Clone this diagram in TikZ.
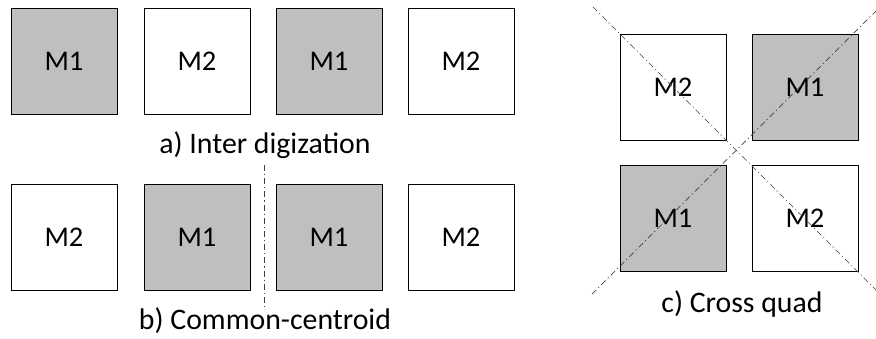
\documentclass[tikz,border=0pt]{standalone}
\usepackage{fontspec}
\setmainfont{Carlito}
\begin{document}
\begin{tikzpicture}[x=1pt,y=-1pt,
  cell/.style={draw=black,line width=0.9pt,minimum size=106pt,inner sep=0pt,
    font=\fontsize{28.5}{30}\selectfont},
  m1/.style={cell,fill=black!25},
  m2/.style={cell,fill=white},
  caption/.style={anchor=base,inner sep=0pt,font=\fontsize{29.8}{31}\selectfont},
  axis/.style={line width=0.7pt,black!75,dash pattern=on 6pt off 3pt on 1.2pt off 3pt}]
\useasboundingbox (0,0) rectangle (876,338);

% a) interdigitated row
\node[m1] (a1) at (64,61.5) {M1};
\node[m2] (a2) at (197,61.5) {M2};
\node[m1] (a3) at (329,61.5) {M1};
\node[m2] (a4) at (461,61.5) {M2};
\node[caption] (capa) at (265,153) {a) Inter digization};

% b) common-centroid row
\node[m2] (b1) at (64,237.5) {M2};
\node[m1] (b2) at (197,237.5) {M1};
\node[m1] (b3) at (329,237.5) {M1};
\node[m2] (b4) at (461,237.5) {M2};
\coordinate (bt) at (264,165);
\coordinate (bb) at (264,308);
\draw[axis] (bt) -- (bb);
\node[caption] (capb) at (265,329) {b) Common-centroid};

% c) cross-quad
\node[m2] (c1) at (673,87.5) {M2};
\node[m1] (c2) at (805,87.5) {M1};
\node[m1] (c3) at (673,218.5) {M1};
\node[m2] (c4) at (805,218.5) {M2};
\coordinate (ul) at (593,7);
\coordinate (lr) at (876,290);
\coordinate (ll) at (592,294);
\coordinate (ur) at (876,11);
\draw[axis] (ul) -- (lr);
\draw[axis] (ll) -- (ur);
\node[caption] (capc) at (742,312) {c) Cross quad};
\end{tikzpicture}
\end{document}
